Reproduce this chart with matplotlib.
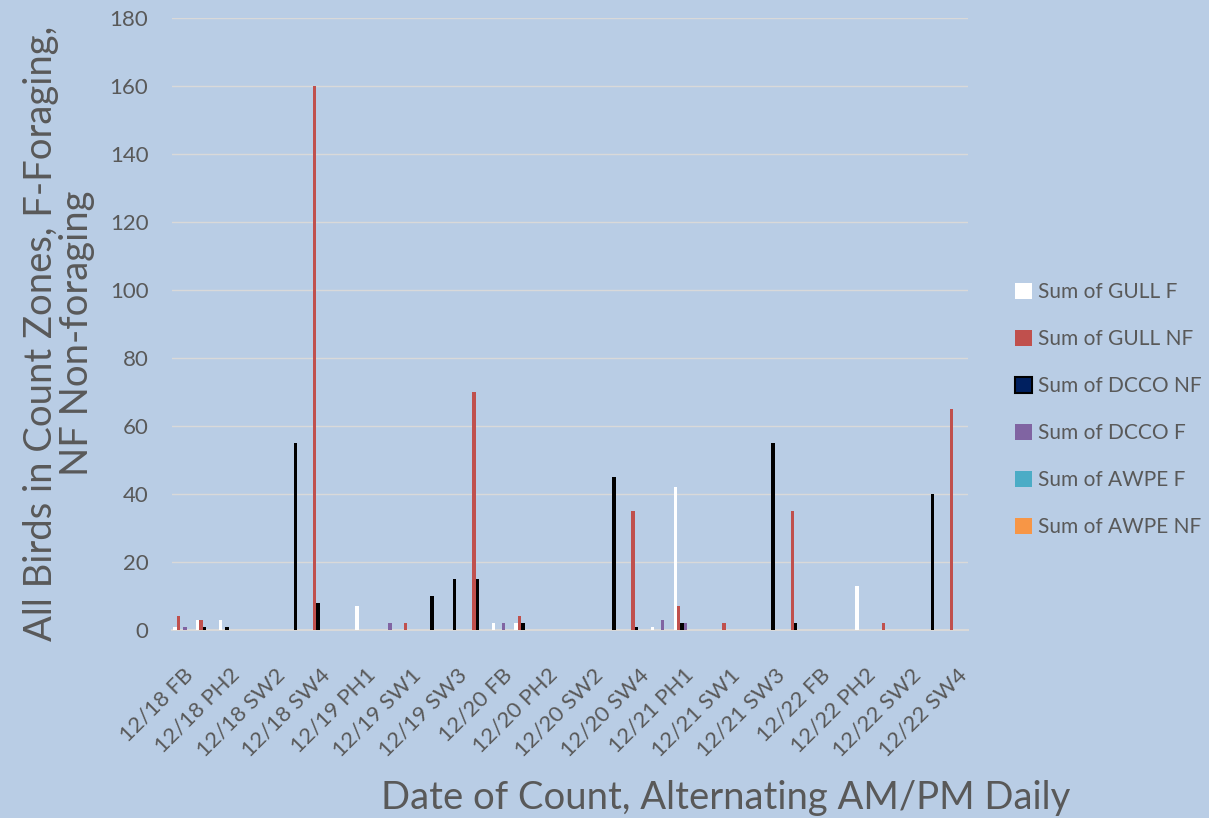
import numpy as np
import matplotlib
matplotlib.use('Agg')
import matplotlib.pyplot as plt

plt.rcParams['font.family'] = ['Lato', 'DejaVu Sans']

# categories: 5 days x 7 count zones
days = ['12/18', '12/19', '12/20', '12/21', '12/22']
zones = ['FB', 'PH1', 'PH2', 'SW1', 'SW2', 'SW3', 'SW4']
categories = [d + ' ' + z for d in days for z in zones]

gull_f = [1, 3, 3, 0, 0, 0, 0,
          0, 7, 0, 0, 0, 0, 0,
          2, 2, 0, 0, 0, 0, 0,
          1, 42, 0, 0, 0, 0, 0,
          0, 0, 13, 0, 0, 0, 0]
gull_nf = [4, 3, 0, 0, 0, 0, 160,
           0, 0, 0, 2, 0, 0, 70,
           0, 4, 0, 0, 0, 0, 35,
           0, 7, 0, 2, 0, 0, 35,
           0, 0, 0, 2, 0, 0, 65]
dcco_nf = [0, 1, 1, 0, 0, 55, 8,
           0, 0, 0, 0, 10, 15, 15,
           0, 2, 0, 0, 0, 45, 1,
           0, 2, 0, 0, 0, 55, 2,
           0, 0, 0, 0, 0, 40, 0]
dcco_f = [1, 0, 0, 0, 0, 0, 0,
          0, 0, 2, 0, 0, 0, 0,
          2, 0, 0, 0, 0, 0, 0,
          3, 2, 0, 0, 0, 0, 0,
          0, 0, 0, 0, 0, 0, 0]
awpe_f = [0] * 35
awpe_nf = [0] * 35

series = [
    ('Sum of GULL F', gull_f, '#FFFFFF'),
    ('Sum of GULL NF', gull_nf, '#C0504D'),
    ('Sum of DCCO NF', dcco_nf, '#000000'),
    ('Sum of DCCO F', dcco_f, '#8064A2'),
    ('Sum of AWPE F', awpe_f, '#4BACC6'),
    ('Sum of AWPE NF', awpe_nf, '#F79646'),
]

bg = '#B9CDE5'
txt = '#595959'

fig = plt.figure(figsize=(12.09, 8.18), dpi=100, facecolor=bg)
ax = fig.add_axes([0.1423, 0.2298, 0.6584, 0.7482])
ax.set_facecolor(bg)

x = np.arange(len(categories))
w = 0.15
for k, (name, vals, col) in enumerate(series):
    vals = np.array(vals, dtype=float)
    nz = vals > 0
    ax.bar(x[nz] + (k - 2.5) * w, vals[nz], width=w, color=col,
           linewidth=0, zorder=3)
    # empty bar just for the legend entry
    ax.bar([np.nan], [np.nan], color=col, label=name)

ax.set_xlim(-0.5, len(categories) - 0.5)
ax.set_ylim(0, 180)
ax.set_yticks(range(0, 181, 20))
ax.yaxis.grid(True, color='#D9D9D9', linewidth=1, zorder=0)
ax.set_axisbelow(True)
for s in ['top', 'right', 'left']:
    ax.spines[s].set_visible(False)
ax.spines['bottom'].set_color('#D9D9D9')
ax.spines['bottom'].set_linewidth(1.5)
ax.tick_params(axis='both', length=0, labelsize=16, colors=txt)
ax.tick_params(axis='y', pad=17)

ax.set_xticks(x[::2])
ax.set_xticklabels(categories[::2], rotation=45, ha='right',
                   rotation_mode='anchor', fontsize=16, color=txt)
ax.tick_params(axis='x', pad=25)

ax.set_ylabel('All Birds in Count Zones, F-Foraging,\nNF Non-foraging',
              fontsize=27.5, color=txt, linespacing=1.0)
ax.yaxis.set_label_coords(-0.097, 0.485)

fig.text(0.6, 0.003, 'Date of Count, Alternating AM/PM Daily',
         fontsize=27.5, color=txt, ha='center', va='bottom')

leg = ax.legend(loc='center left', bbox_to_anchor=(1.036, 0.36),
                frameon=False, fontsize=15, labelspacing=1.3,
                handlelength=0.8, handleheight=0.8, handletextpad=0.3)
for t in leg.get_texts():
    t.set_color(txt)
h = leg.legend_handles[2]
h.set_facecolor('#002060')
h.set_edgecolor('#000000')
h.set_linewidth(1.5)

fig.savefig('out.png', dpi=100, facecolor=bg)
